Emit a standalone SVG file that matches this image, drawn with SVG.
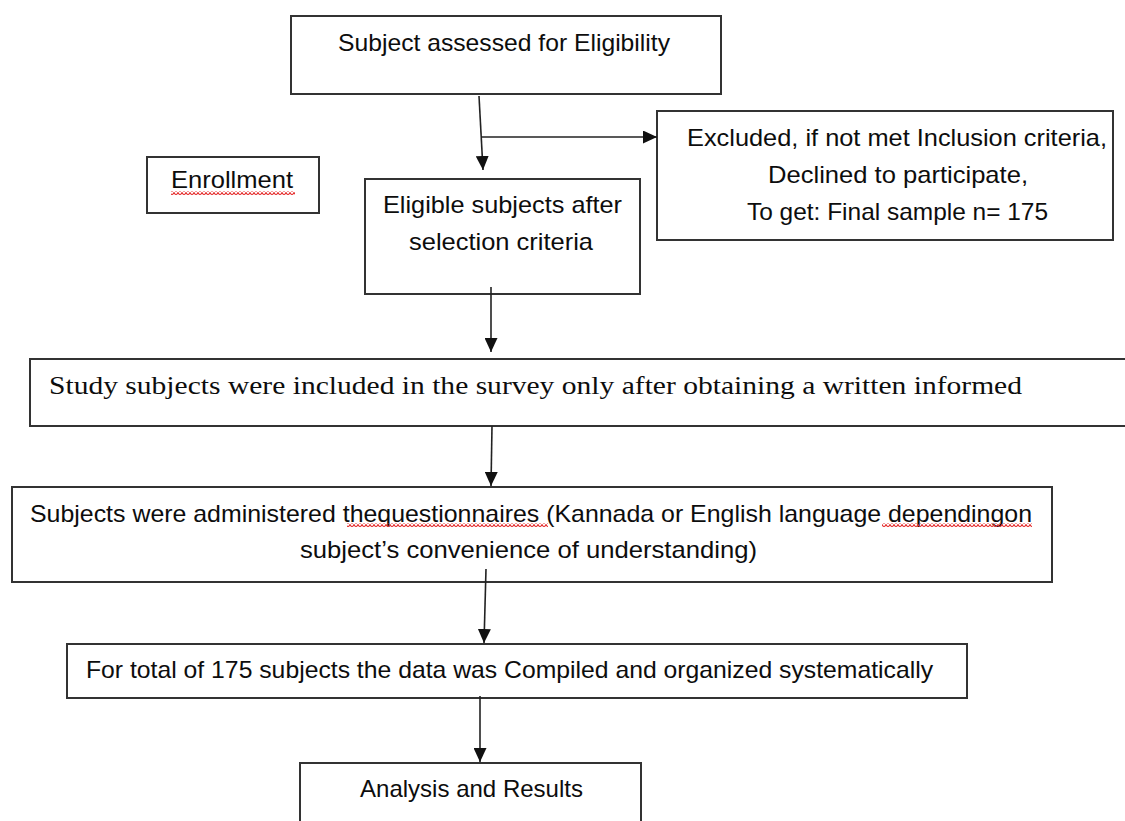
<svg xmlns="http://www.w3.org/2000/svg" width="1125" height="821" viewBox="0 0 1125 821">
<style>
.box{fill:#fff;stroke:#333;stroke-width:2}
.t{font-family:"Liberation Sans",Arial,sans-serif;font-size:24px;fill:#0d0d0d}
.s{font-family:"Liberation Serif","Times New Roman",serif;font-size:26px;fill:#0d0d0d}
.c{stroke:#222;stroke-width:1.6;fill:none;marker-end:url(#ah)}
</style>
<defs>
<marker id="ah" markerUnits="userSpaceOnUse" markerWidth="14" markerHeight="13" refX="14" refY="6.5" orient="auto">
<path d="M0,0 L14,6.5 L0,13 z" fill="#111"/>
</marker>
<pattern id="sq" width="4" height="4" patternUnits="userSpaceOnUse">
<path d="M0,3.5 L2,0.5 L4,3.5" stroke="#e53030" stroke-width="1.1" fill="none"/>
</pattern>
</defs>
<rect width="1125" height="821" fill="#fff"/>
<g id="n-assessed">
<rect class="box" x="291" y="16" width="430" height="78"/>
<text class="t" x="338" y="51" textLength="332" lengthAdjust="spacingAndGlyphs">Subject assessed for Eligibility</text>
</g>
<g id="n-enrollment">
<rect class="box" x="147" y="157" width="172" height="56"/>
<text class="t" x="171" y="188" textLength="122" lengthAdjust="spacingAndGlyphs">Enrollment</text>
<rect x="171" y="191" width="124" height="4" fill="url(#sq)"/>
</g>
<g id="n-eligible">
<rect class="box" x="365" y="179" width="275" height="115"/>
<text class="t" x="383" y="213" textLength="239" lengthAdjust="spacingAndGlyphs">Eligible subjects after</text>
<text class="t" x="409" y="250" textLength="184" lengthAdjust="spacingAndGlyphs">selection criteria</text>
</g>
<g id="n-excluded">
<rect class="box" x="657" y="111" width="456" height="129"/>
<text class="t" x="687" y="146" textLength="420" lengthAdjust="spacingAndGlyphs">Excluded, if not met Inclusion criteria,</text>
<text class="t" x="768" y="183" textLength="260" lengthAdjust="spacingAndGlyphs">Declined to participate,</text>
<text class="t" x="747" y="220" textLength="301" lengthAdjust="spacingAndGlyphs">To get: Final sample n= 175</text>
</g>
<g id="n-study">
<rect class="box" x="30" y="359" width="1096" height="67"/>
<text class="s" x="49" y="394" textLength="973" lengthAdjust="spacingAndGlyphs">Study subjects were included in the survey only after obtaining a written informed</text>
</g>
<g id="n-questionnaires">
<rect class="box" x="12" y="487" width="1040" height="95"/>
<text class="t" x="30" y="522" textLength="1002" lengthAdjust="spacingAndGlyphs">Subjects were administered thequestionnaires (Kannada or English language dependingon</text>
<text class="t" x="300" y="558" textLength="457" lengthAdjust="spacingAndGlyphs">subject’s convenience of understanding)</text>
<rect x="347" y="523" width="201" height="4" fill="url(#sq)"/>
<rect x="882" y="523" width="150" height="4" fill="url(#sq)"/>
</g>
<g id="n-compiled">
<rect class="box" x="67" y="644" width="900" height="54"/>
<text class="t" x="86" y="678" textLength="847" lengthAdjust="spacingAndGlyphs">For total of 175 subjects the data was Compiled and organized systematically</text>
</g>
<g id="n-analysis">
<rect class="box" x="300" y="763" width="341" height="70"/>
<text class="t" x="360" y="797" textLength="223" lengthAdjust="spacingAndGlyphs">Analysis and Results</text>
</g>
<g id="connectors">
<path class="c" d="M479,96 L483,170"/>
<path class="c" d="M481,137 L657,137"/>
<path class="c" d="M491,287 L491,352"/>
<path class="c" d="M492,426 L491,486"/>
<path class="c" d="M486,569 L484,643"/>
<path class="c" d="M480,696 L480,762"/>
</g>
</svg>
